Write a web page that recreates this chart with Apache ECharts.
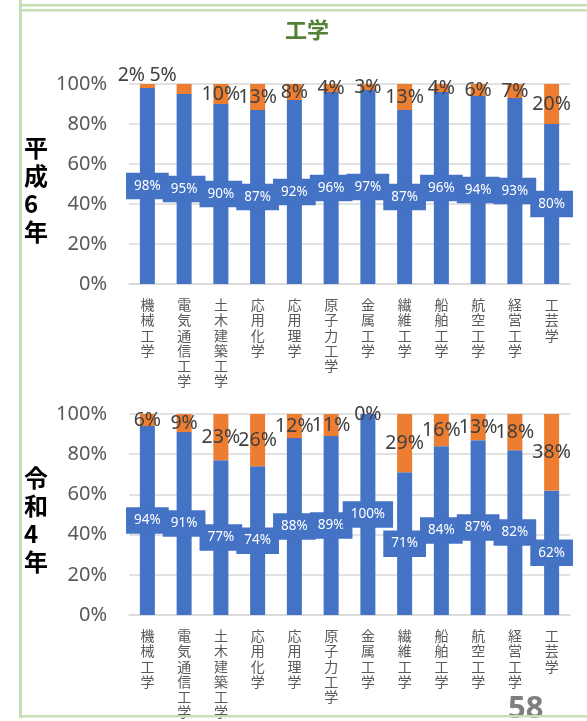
<!DOCTYPE html>
<html>
<head>
<meta charset="utf-8">
<script src="https://cdn.jsdelivr.net/npm/echarts@6/dist/echarts.min.js"></script>
<style>
  html, body { margin: 0; padding: 0; background: #ffffff; }
  #chart { width: 587px; height: 721px; }
</style>
</head>
<body>
<div id="chart"></div>
<script>
// 工学系学科の構成比（平成6年・令和4年）
const categories = ['機械工学', '電気通信工学', '土木建築工学', '応用化学', '応用理学', '原子力工学',
                    '金属工学', '繊維工学', '船舶工学', '航空工学', '経営工学', '工芸学'];
const h6Blue   = [98, 95, 90, 87, 92, 96, 97, 87, 96, 94, 93, 80];
const h6Orange = [2, 5, 10, 13, 8, 4, 3, 13, 4, 6, 7, 20];
const r4Blue   = [94, 91, 77, 74, 88, 89, 100, 71, 84, 87, 82, 62];
const r4Orange = [6, 9, 23, 26, 12, 11, 0, 29, 16, 13, 18, 38];
const yTicks = [0, 20, 40, 60, 80, 100];

// label nudges for the two crowded small shares in the first panel
const h6OrangeNudge = { 0: [-16, -11], 1: [-21, -14] };

const BLUE = '#4472C4';
const ORANGE = '#ED7D31';
const GRID_GRAY = '#D9D9D9';
const AXIS_TEXT = '#595959';
const LINE_GREEN = '#C5E0B4';
const FONT = '"Noto Sans", "Noto Sans CJK JP", sans-serif';
const CJK = '"Noto Sans CJK JP", sans-serif';

const chart = echarts.init(document.getElementById('chart'), null, { renderer: 'canvas' });

function xAxisFor(gridIndex) {
  return {
    type: 'category', gridIndex, data: categories,
    axisLine: { lineStyle: { color: GRID_GRAY, width: 1.5 } },
    axisTick: { show: false },
    axisLabel: {
      interval: 0, margin: 13, color: AXIS_TEXT, fontFamily: CJK, fontSize: 14, lineHeight: 15.3,
      formatter: v => v.split('').join('\n')
    }
  };
}
function yAxisFor(gridIndex) {
  return {
    type: 'value', gridIndex, min: yTicks[0], max: yTicks[yTicks.length - 1],
    interval: yTicks[1] - yTicks[0],
    axisLine: { show: false }, axisTick: { show: false },
    splitLine: { lineStyle: { color: GRID_GRAY, width: 1.5 } },
    axisLabel: { color: AXIS_TEXT, fontFamily: FONT, fontSize: 20, margin: 22, formatter: '{value}%' }
  };
}
const blueLabel = {
  show: true, position: 'inside', formatter: '{c}%', color: '#ffffff',
  fontFamily: FONT, fontSize: 13.5, backgroundColor: BLUE, padding: [7, 8, 6, 8]
};
const orangeLabel = {
  show: true, position: 'inside', formatter: '{c}%', color: '#404040',
  fontFamily: FONT, fontSize: 19.5
};
function orangeData(values, nudge) {
  return values.map((v, i) => nudge && nudge[i] ? { value: v, label: { offset: nudge[i] } } : v);
}
function pair(idx, blue, orange, nudge) {
  return [
    { type: 'bar', xAxisIndex: idx, yAxisIndex: idx, stack: 's' + idx, data: blue,
      barWidth: 15, itemStyle: { color: BLUE }, label: blueLabel, z: 2 },
    { type: 'bar', xAxisIndex: idx, yAxisIndex: idx, stack: 's' + idx, data: orangeData(orange, nudge),
      barWidth: 15, itemStyle: { color: ORANGE }, label: orangeLabel, z: 2 }
  ];
}

chart.setOption({
  animation: false,
  title: {
    text: '工学', left: 302, top: 14, textAlign: 'center',
    textStyle: { color: '#548235', fontFamily: CJK, fontSize: 22, fontWeight: 'bold' }
  },
  grid: [
    { left: 129, right: 17, top: 84, height: 200 },
    { left: 129, right: 17, top: 414, height: 201 }
  ],
  xAxis: [xAxisFor(0), xAxisFor(1)],
  yAxis: [yAxisFor(0), yAxisFor(1)],
  series: [...pair(0, h6Blue, h6Orange, h6OrangeNudge), ...pair(1, r4Blue, r4Orange, null)],
  graphic: [
    // panel labels
    { type: 'text', left: 24, top: 134, z: 10,
      style: { text: '平\n成\n6\n年', fill: '#000', font: 'bold 24px "Noto Sans CJK JP"', lineHeight: 28, align: 'center', width: 26 } },
    { type: 'text', left: 24, top: 464, z: 10,
      style: { text: '令\n和\n4\n年', fill: '#000', font: 'bold 24px "Noto Sans CJK JP"', lineHeight: 28, align: 'center', width: 26 } },
    // page number
    { type: 'text', left: 508, top: 694, z: 10,
      style: { text: '58', fill: '#7F7F7F', font: 'bold 31px "Noto Sans"' } },
    // page frame
    { type: 'rect', z: 20, shape: { x: 19, y: 0, width: 3, height: 718 }, style: { fill: LINE_GREEN } },
    { type: 'rect', z: 20, shape: { x: 19, y: 4, width: 568, height: 2.5 }, style: { fill: LINE_GREEN } },
    { type: 'rect', z: 20, shape: { x: 19, y: 9, width: 568, height: 2.5 }, style: { fill: LINE_GREEN } },
    { type: 'rect', z: 20, shape: { x: 19, y: 715, width: 568, height: 2.5 }, style: { fill: LINE_GREEN } }
  ]
});
</script>
</body>
</html>
